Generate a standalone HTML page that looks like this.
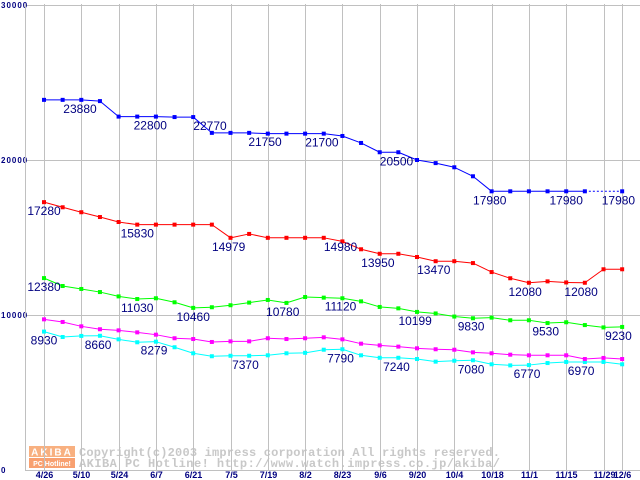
<!DOCTYPE html>
<html><head><meta charset="utf-8"><style>
html,body{margin:0;padding:0;background:#fff;}
svg{display:block;}
</style></head><body>
<svg id="chart" width="640" height="480" xmlns="http://www.w3.org/2000/svg" font-family="'Liberation Sans', sans-serif"></svg>
<script>
const categories=["4/26","5/10","5/24","6/7","6/21","7/5","7/19","8/2","8/23","9/6","9/20","10/4","10/18","11/1","11/15","11/29","12/6"];
const categoryIndex=[0,2,4,6,8,10,12,14,16,18,20,22,24,26,28,30,31];
const yTicks=[0,10000,20000,30000];
const blueValues=[23880,23880,23880,23800,22800,22800,22800,22770,22770,21750,21750,21750,21700,21700,21700,21700,21550,21100,20500,20500,20000,19800,19530,18950,17980,17980,17980,17980,17980,17980,null,17980];
const redValues=[17280,16950,16630,16320,16000,15830,15830,15830,15830,15830,14979,15230,14980,14980,14980,14980,14750,14240,13950,13950,13740,13470,13470,13350,12770,12370,12080,12170,12100,12080,12950,12950];
const greenValues=[12380,11870,11680,11480,11200,11030,11080,10820,10460,10500,10630,10800,10970,10780,11160,11120,11080,10880,10520,10430,10199,10100,9900,9790,9830,9660,9660,9480,9530,9350,9200,9230];
const magentaValues=[9720,9550,9270,9080,9010,8880,8730,8500,8450,8260,8300,8300,8500,8450,8500,8560,8430,8150,8040,7960,7850,7790,7760,7590,7530,7440,7400,7400,7400,7160,7230,7160];
const cyanValues=[8930,8580,8650,8660,8430,8240,8279,7920,7530,7340,7370,7370,7400,7530,7560,7760,7790,7400,7240,7240,7160,6990,7050,7080,6820,6750,6770,6900,6970,6970,6970,6820];
const blueLabels=[[1.93,23880],[5.7,22800],[8.9,22770],[11.85,21750],[14.9,21700],[18.9,20500],[23.9,17980],[28,17980],[30.8,17980]];
const redLabels=[[0,17280],[5,15830],[9.9,14979],[15.9,14980],[17.9,13950],[20.9,13470],[25.8,12080],[28.8,12080]];
const greenLabels=[[0,12380],[5,11030],[8,10460],[12.8,10780],[15.9,11120],[19.9,10199],[22.9,9830],[26.9,9530],[30.8,9230]];
const cyanLabels=[[0,8930],[2.9,8660],[5.9,8279],[10.8,7370],[15.9,7790],[18.9,7240],[22.9,7080],[25.9,6770],[28.8,6970]];

const NS="http://www.w3.org/2000/svg";
const svg=document.getElementById('chart');
const xs=i=>44+i*18.65;
const ys=v=>470-v*0.0155;
function mk(tag,attrs,parent){const e=document.createElementNS(NS,tag);for(const k in attrs)e.setAttribute(k,attrs[k]);(parent||svg).appendChild(e);return e;}

yTicks.forEach(t=>{
  const l=mk('line',{x1:25,x2:640,y1:ys(t)+0.5,y2:ys(t)+0.5,stroke:'#c0c0c0','stroke-width':1});
  
  
  const tx=mk('text',{x:1,y:ys(t)+3,'font-size':8,'font-weight':'bold',fill:'#000080','letter-spacing':'1'});
  tx.textContent=String(t);
  
  
});
const ax=mk('line',{x1:25.5,x2:25.5,y1:4,y2:470,stroke:'#c0c0c0','stroke-width':1});



// watermark
const g=mk('g',{});


mk('rect',{x:29,y:446,width:46,height:11,fill:'#f8b080'},g);
mk('rect',{x:29,y:458,width:46,height:10,fill:'#f8a070'},g);
const a1=mk('text',{x:52,y:455.5,'font-size':10,'font-weight':'bold',fill:'#fff','text-anchor':'middle','letter-spacing':'2'},g);a1.textContent='AKIBA';
const a2=mk('text',{x:52,y:466,'font-size':7,'font-weight':'bold',fill:'#fff','text-anchor':'middle'},g);a2.textContent='PC Hotline!';
const c1=mk('text',{x:79,y:456,'font-size':12,'font-family':"'Liberation Mono', monospace",fill:'#c8c8c8','font-weight':'bold',textLength:421,lengthAdjust:'spacing'},g);c1.textContent='Copyright(c)2003 impress corporation All rights reserved.';
const c2=mk('text',{x:79,y:467,'font-size':12,'font-family':"'Liberation Mono', monospace",fill:'#c8c8c8','font-weight':'bold',textLength:421,lengthAdjust:'spacing'},g);c2.textContent='AKIBA PC Hotline!  http://www.watch.impress.co.jp/akiba/';

categories.forEach((c,k)=>{
  const x=Math.round(xs(categoryIndex[k]))+0.5;
  const l=mk('line',{x1:x,x2:x,y1:4,y2:470,stroke:'#c0c0c0','stroke-width':1});
  
  
  const t=mk('text',{x:x,y:478,'font-size':9,'font-weight':'bold',fill:'#000080','text-anchor':'middle'});
  t.textContent=c;
  
  
});

function series(vals,color,name){
  const grp=mk('g',{});
  
  
  let prev=-1;
  for(let i=0;i<vals.length;i++){
    if(vals[i]==null)continue;
    if(prev>=0){
      const dashed=(i-prev)>1;
      const ln=mk('line',{x1:xs(prev),y1:ys(vals[prev]),x2:xs(i),y2:ys(vals[i]),stroke:color,'stroke-width':1},grp);
      if(dashed)ln.setAttribute('stroke-dasharray','2,2');
      
      
    }
    prev=i;
  }
  vals.forEach((v,i)=>{
    if(v==null)return;
    const r=mk('rect',{x:xs(i)-2,y:ys(v)-2,width:4,height:4,fill:color},grp);
    
    
  });
}
function labels(arr,name){
  arr.forEach(([i,v])=>{
    const t=mk('text',{x:xs(i),y:ys(v)+13,'font-size':12,fill:'#000080','text-anchor':'middle'});
    t.textContent=String(v);
    
    
  });
}
series(cyanValues,'#00ffff','cyan-series');
series(magentaValues,'#ff00ff','magenta-series');
series(greenValues,'#00ff00','green-series');
series(redValues,'#ff0000','red-series');
series(blueValues,'#0000ff','blue-series');
labels(blueLabels,'blue-value-label');
labels(redLabels,'red-value-label');
labels(greenLabels,'green-value-label');
labels(cyanLabels,'cyan-value-label');
</script>
</body></html>
